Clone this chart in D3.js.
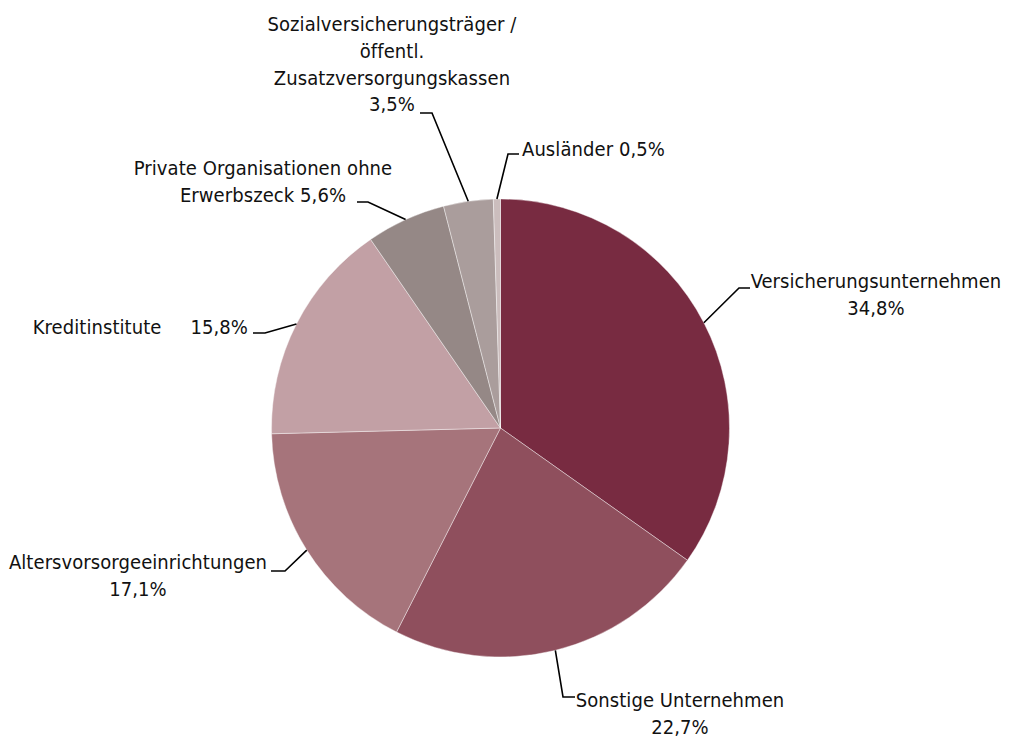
<!DOCTYPE html>
<html>
<head>
<meta charset="utf-8">
<script src="https://cdn.jsdelivr.net/npm/d3@7"></script>
<style>
  html, body { margin: 0; padding: 0; background: #fff; }
  svg { display: block; }
  .lbl { font-family: "DejaVu Sans Condensed", "DejaVu Sans", sans-serif; font-stretch: condensed; font-size: 20px; fill: #111; }
</style>
</head>
<body>
<svg id="chart" width="1009" height="738"></svg>
<script>
// Holder groups and their shares (percent), clockwise from 12 o'clock
const sectors = [
  "Versicherungsunternehmen",
  "Sonstige Unternehmen",
  "Altersvorsorgeeinrichtungen",
  "Kreditinstitute",
  "Private Organisationen ohne Erwerbszeck",
  "Sozialversicherungsträger / öffentl. Zusatzversorgungskassen",
  "Ausländer"
];
const shares = [34.8, 22.7, 17.1, 15.8, 5.6, 3.5, 0.5];
const colors = ["#782b41", "#8f4f5d", "#a6747b", "#c2a0a5", "#958886", "#aa9d9c", "#cbbdbd"];

// Label text lines; "{v}" is replaced by the formatted share
const labelLines = [
  ["Versicherungsunternehmen", "{v}"],
  ["Sonstige Unternehmen", "{v}"],
  ["Altersvorsorgeeinrichtungen", "{v}"],
  ["Kreditinstitute\u00a0\u00a0\u00a0\u00a0\u00a0{v}"],
  ["Private Organisationen ohne", "Erwerbszeck {v}"],
  ["Sozialversicherungsträger /", "öffentl.", "Zusatzversorgungskassen", "{v}"],
  ["Ausländer {v}"]
];

// Label placement: leader elbow, leader end, text anchor and first baseline
const labelLayout = [
  { elbow: [739, 288], end: [750, 288], x: 876, y: 288, anchor: "middle" },
  { elbow: [563, 697], end: [575, 697], x: 680, y: 707, anchor: "middle" },
  { elbow: [285, 571], end: [271, 571], x: 138, y: 569, anchor: "middle" },
  { elbow: [265, 333], end: [253, 333], x: 248, y: 334, anchor: "end" },
  { elbow: [368, 202], end: [357, 202], x: 263, y: 175, anchor: "middle" },
  { elbow: [432, 113], end: [420, 113], x: 392, y: 31, anchor: "middle" },
  { elbow: [508, 154], end: [519, 154], x: 522, y: 156, anchor: "start" }
];

const lineHeight = 26.8;
const fmt = v => d3.format(".1f")(v).replace(".", ",") + "%";

const svg = d3.select("#chart");
const cx = 500.5, cy = 428, radius = 229;

const pie = d3.pie().sort(null).value(d => d.value);
const arcs = pie(sectors.map((name, i) => ({ name, value: shares[i], i })));

const arc = d3.arc().innerRadius(0).outerRadius(radius);
const edge = d3.arc().innerRadius(radius).outerRadius(radius);

const g = svg.append("g").attr("transform", `translate(${cx},${cy})`);

g.selectAll("path.slice")
  .data(arcs)
  .join("path")
  .attr("class", "slice")
  .attr("d", arc)
  .attr("fill", d => colors[d.data.i])
  .attr("stroke", "rgba(255,255,255,0.4)")
  .attr("stroke-width", 1);

// Leader lines from the slice rim to each label
svg.selectAll("polyline.leader")
  .data(arcs)
  .join("polyline")
  .attr("class", "leader")
  .attr("fill", "none")
  .attr("stroke", "#000")
  .attr("stroke-width", 1.6)
  .attr("points", d => {
    const [sx, sy] = edge.centroid(d);
    const L = labelLayout[d.data.i];
    return [[cx + sx, cy + sy], L.elbow, L.end].map(p => p.join(",")).join(" ");
  });

// Tracking: spread the condensed face so the widest label line spans ~249px
const probe = svg.append("text").attr("class", "lbl").text("Sozialversicherungsträger /");
const probeW = probe.node().getComputedTextLength();
probe.remove();
const tracking = (249 - probeW) / 27;

// Labels
const labels = svg.selectAll("text.lbl")
  .data(arcs)
  .join("text")
  .attr("class", "lbl")
  .style("letter-spacing", tracking + "px")
  .attr("text-anchor", d => labelLayout[d.data.i].anchor)
  .attr("x", d => labelLayout[d.data.i].x)
  .attr("y", d => labelLayout[d.data.i].y);

labels.selectAll("tspan")
  .data(d => labelLines[d.data.i].map((t, k) => ({ text: t.replace("{v}", fmt(d.data.value)), k, x: labelLayout[d.data.i].x })))
  .join("tspan")
  .attr("x", t => t.x)
  .attr("dy", t => t.k === 0 ? 0 : lineHeight)
  .text(t => t.text);
</script>
</body>
</html>
